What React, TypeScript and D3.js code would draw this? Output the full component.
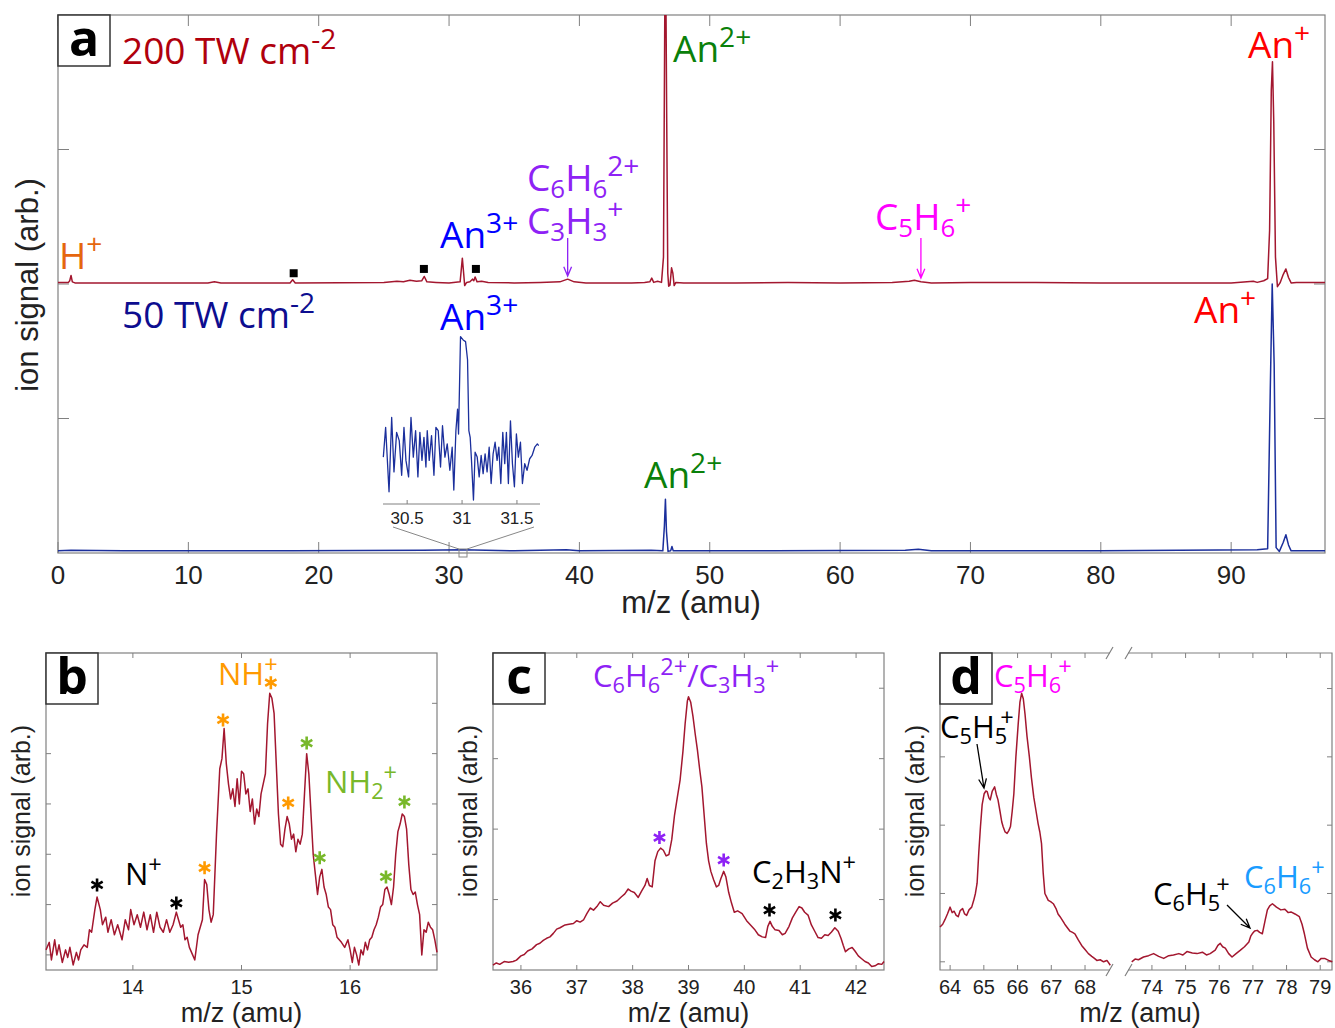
import React from "react";
import * as d3 from "d3";

const LABEL_FONT = "'Open Sans', 'Noto Sans', sans-serif";
const TICK_FONT = "'Liberation Sans', Arial, sans-serif";
const TRACE_RED = "#a3172f";
const TRACE_BLUE = "#1b2f9c";
const AXIS_GREY = "#808080";

type Pt = [number, number];
type Seg = [string, number?, number?];

// ---------- panel a: full spectra ----------
const massTicksA = [0, 10, 20, 30, 40, 50, 60, 70, 80, 90];
const signalTicksA = [0.25, 0.5, 0.75];
const RED_OFFSET = 0.5; // 200 TW trace is drawn above the 50 TW trace

// 200 TW cm-2 (signal above its own baseline)
const spectrum200: Pt[] = [
  [0, 0.003], [0.8, 0.003], [0.9, 0.006], [1.0, 0.016], [1.1, 0.004], [1.3, 0.002], [5, 0.002],
  [8, 0.002], [11.5, 0.002], [12, 0.004], [12.5, 0.002], [17.8, 0.002], [18, 0.008], [18.2, 0.002],
  [25, 0.003], [26, 0.005], [26.5, 0.004], [27, 0.007], [27.5, 0.005], [27.9, 0.006], [28.1, 0.014],
  [28.3, 0.004], [29, 0.003], [30, 0.002], [30.85, 0.004], [31.02, 0.048], [31.12, 0.02], [31.2, -0.003],
  [31.35, 0.003], [31.6, 0.004], [31.8, 0.009], [31.9, 0.006], [32.0, 0.013], [32.15, 0.004], [32.5, 0.005],
  [33, 0.003], [35, 0.002], [37, 0.003], [38.5, 0.004], [39.1, 0.009], [39.6, 0.004], [40.5, 0.002],
  [42, 0.002], [44, 0.002], [45, 0.003], [45.4, 0.004], [45.55, 0.011], [45.7, 0.003], [46.0, 0.005],
  [46.3, 0.003], [46.45, 0.05], [46.55, 0.5], [46.62, 0.6], [46.7, 0.3], [46.78, 0.02], [46.85, -0.004],
  [46.95, -0.002], [47.07, 0.03], [47.17, 0.02], [47.27, -0.003], [47.4, 0.003], [48, 0.002], [52, 0.002],
  [56, 0.003], [60, 0.002], [64, 0.003], [65.3, 0.005], [65.7, 0.007], [66.2, 0.004], [67, 0.002],
  [70, 0.003], [75, 0.003], [80, 0.002], [85, 0.002], [90, 0.002], [91.7, 0.005], [92.0, 0.003],
  [92.5, 0.006], [92.8, 0.01], [92.95, 0.1], [93.08, 0.36], [93.17, 0.413], [93.27, 0.3], [93.4, 0.05],
  [93.55, -0.005], [93.75, 0.002], [94.0, 0.018], [94.2, 0.028], [94.4, 0.012], [94.6, 0.002],
  [95, 0.003], [97.2, 0.003],
];

// 50 TW cm-2
const spectrum50: Pt[] = [
  [0, 0.004], [1, 0.005], [5, 0.004], [18, 0.004], [28, 0.005], [31, 0.006], [35, 0.004], [39, 0.006],
  [40, 0.004], [45.5, 0.005], [46.4, 0.004], [46.52, 0.05], [46.6, 0.1], [46.68, 0.04], [46.8, 0.003],
  [47.0, 0.004], [47.1, 0.012], [47.2, 0.004], [55, 0.004], [65, 0.005], [66, 0.007], [67, 0.004],
  [80, 0.004], [92, 0.006], [92.8, 0.008], [93.0, 0.3], [93.15, 0.5], [93.3, 0.35], [93.45, 0.01],
  [93.7, 0.003], [94.0, 0.02], [94.2, 0.034], [94.4, 0.015], [94.6, 0.004], [97.2, 0.004],
];

// zoom of 50 TW trace around An3+
const insetTicks = [30.5, 31, 31.5];
const inset50: Pt[] = [
  [30.283, 0.26], [30.304, 0.44], [30.335, 0.05], [30.359, 0.5], [30.38, 0.17], [30.404, 0.41],
  [30.428, 0.36], [30.45, 0.15], [30.471, 0.44], [30.489, 0.24], [30.513, 0.14], [30.535, 0.5],
  [30.556, 0.26], [30.577, 0.42], [30.598, 0.14], [30.616, 0.41], [30.635, 0.24], [30.653, 0.38],
  [30.671, 0.2], [30.683, 0.42], [30.701, 0.24], [30.722, 0.39], [30.744, 0.15], [30.762, 0.44],
  [30.783, 0.42], [30.804, 0.2], [30.822, 0.45], [30.844, 0.26], [30.865, 0.34], [30.889, 0.18],
  [30.91, 0.32], [30.925, 0.06], [30.944, 0.42], [30.959, 0.55], [30.968, 0.4], [30.986, 0.99],
  [31.01, 0.97], [31.032, 0.96], [31.05, 0.85], [31.062, 0.42], [31.074, 0.38], [31.086, 0.24],
  [31.104, 0.0], [31.119, 0.29], [31.138, 0.26], [31.156, 0.14], [31.174, 0.27], [31.192, 0.16],
  [31.21, 0.28], [31.228, 0.17], [31.247, 0.32], [31.265, 0.1], [31.283, 0.28], [31.301, 0.35],
  [31.319, 0.24], [31.335, 0.32], [31.353, 0.1], [31.371, 0.41], [31.389, 0.22], [31.404, 0.41],
  [31.422, 0.1], [31.441, 0.48], [31.459, 0.22], [31.477, 0.08], [31.495, 0.4], [31.513, 0.26],
  [31.532, 0.35], [31.55, 0.1], [31.571, 0.22], [31.592, 0.18], [31.616, 0.25], [31.638, 0.27],
  [31.662, 0.32], [31.686, 0.34], [31.698, 0.33],
];

// contaminant markers (m/z, height above 200 TW baseline)
const squareMarks: Pt[] = [[18.08, 0.02], [28.07, 0.028], [32.06, 0.028]];

// ---------- panel b ----------
const massTicksB = [14, 15, 16];
const signalTicksB = [0, 1, 2, 3, 4, 5];
const traceB: Pt[] = [
  [13.2, 0.1], [13.23, 0.25], [13.25, -0.1], [13.28, 0.3], [13.3, 0.0], [13.32, 0.2], [13.35, -0.15],
  [13.38, 0.1], [13.4, -0.05], [13.42, 0.15], [13.45, -0.2], [13.48, 0.05], [13.5, -0.1], [13.52, 0.1],
  [13.55, 0.2], [13.58, 0.15], [13.6, 0.5], [13.62, 0.45], [13.65, 0.9], [13.67, 1.15], [13.7, 0.9],
  [13.72, 0.6], [13.75, 0.75], [13.77, 0.45], [13.8, 0.7], [13.83, 0.4], [13.86, 0.6], [13.9, 0.3],
  [13.93, 0.7], [13.96, 0.5], [13.98, 0.9], [14.01, 0.6], [14.04, 0.8], [14.07, 0.55], [14.1, 0.85],
  [14.13, 0.5], [14.16, 0.8], [14.19, 0.45], [14.22, 0.85], [14.25, 0.55], [14.28, 0.45], [14.31, 0.7],
  [14.34, 0.45], [14.37, 0.6], [14.4, 0.85], [14.42, 0.7], [14.44, 0.55],
  [14.46, 0.6], [14.48, 0.3], [14.5, 0.35], [14.52, 0.15], [14.55, 0.0], [14.57, -0.1], [14.6, 0.4],
  [14.62, 0.55], [14.64, 0.7], [14.66, 1.5], [14.68, 1.4], [14.7, 0.9], [14.72, 0.65], [14.74, 0.8],
  [14.77, 2.4], [14.8, 3.7], [14.82, 3.9], [14.84, 4.5], [14.86, 3.8], [14.88, 3.4], [14.9, 3.1],
  [14.92, 3.3], [14.94, 2.95], [14.96, 3.5], [14.98, 3.0], [15.0, 3.65], [15.02, 3.6], [15.04, 3.2],
  [15.06, 3.3], [15.08, 2.85], [15.1, 3.1], [15.12, 2.6], [15.14, 2.9], [15.16, 2.75], [15.18, 3.2],
  [15.2, 3.4], [15.22, 3.6], [15.24, 4.6], [15.26, 5.2], [15.28, 5.1], [15.3, 4.8], [15.32, 3.8],
  [15.34, 2.8], [15.36, 2.2], [15.38, 2.15], [15.4, 2.5], [15.42, 2.75], [15.44, 2.6], [15.46, 2.3],
  [15.48, 2.4], [15.5, 2.05], [15.52, 2.3], [15.54, 2.2], [15.56, 2.4], [15.58, 3.2], [15.6, 4.0],
  [15.62, 3.6], [15.64, 2.8], [15.66, 2.0], [15.68, 1.6], [15.7, 1.2], [15.72, 1.55], [15.74, 1.7],
  [15.76, 1.35], [15.78, 1.2], [15.8, 0.95], [15.82, 0.9], [15.84, 0.6], [15.86, 0.55], [15.88, 0.35],
  [15.9, 0.3], [15.92, 0.25], [15.95, 0.15], [15.98, 0.3], [16.0, 0.1], [16.02, -0.15], [16.04, 0.15],
  [16.06, 0.0], [16.08, -0.2], [16.1, 0.1], [16.12, 0.0], [16.14, 0.25], [16.16, 0.1], [16.18, 0.3],
  [16.2, 0.35], [16.22, 0.5], [16.24, 0.6], [16.26, 0.75], [16.28, 0.95], [16.3, 1.0], [16.32, 1.3],
  [16.34, 1.35], [16.36, 1.2], [16.38, 1.0], [16.4, 1.35], [16.42, 2.0], [16.44, 2.45], [16.46, 2.6],
  [16.48, 2.8], [16.5, 2.75], [16.52, 2.5], [16.54, 1.8], [16.56, 1.3], [16.58, 1.2], [16.6, 1.25],
  [16.62, 1.0], [16.64, 0.8], [16.66, 0.0], [16.68, 0.5], [16.7, 0.45], [16.72, 0.65], [16.74, 0.55],
  [16.76, 0.5], [16.78, 0.3], [16.8, 0.05],
];
const starsB: [number, number, string][] = [
  [13.67, 1.39, "#000"], [14.4, 1.03, "#000"],
  [14.66, 1.73, "#ff9a00"], [14.83, 4.67, "#ff9a00"], [15.27, 5.41, "#ff9a00"], [15.43, 3.02, "#ff9a00"],
  [15.6, 4.21, "#78b82a"], [15.72, 1.93, "#78b82a"], [16.33, 1.55, "#78b82a"], [16.5, 3.04, "#78b82a"],
];

// ---------- panel c ----------
const massTicksC = [36, 37, 38, 39, 40, 41, 42];
const signalTicksC = [1, 2, 3, 4];
const traceC: Pt[] = [
  [35.5, 0.07], [35.56, 0.1], [35.62, 0.08], [35.7, 0.12], [35.78, 0.11], [35.86, 0.12], [35.92, 0.14],
  [36.0, 0.2], [36.06, 0.22], [36.12, 0.27], [36.2, 0.3], [36.28, 0.36], [36.34, 0.38], [36.4, 0.42],
  [36.46, 0.45], [36.52, 0.47], [36.58, 0.52], [36.64, 0.58], [36.7, 0.6], [36.79, 0.64], [36.86, 0.65],
  [36.94, 0.66], [37.0, 0.7], [37.06, 0.68], [37.12, 0.71], [37.18, 0.8], [37.24, 0.88], [37.3, 0.85],
  [37.36, 0.9], [37.42, 0.97], [37.48, 0.92], [37.57, 0.9], [37.64, 0.95], [37.72, 0.98], [37.8, 1.04],
  [37.86, 1.08], [37.92, 1.15], [37.97, 1.12], [38.03, 1.1], [38.1, 1.03], [38.16, 1.12], [38.22, 1.2],
  [38.26, 1.3], [38.3, 1.2], [38.35, 1.18], [38.4, 1.55], [38.45, 1.68], [38.5, 1.73], [38.55, 1.7],
  [38.6, 1.62], [38.65, 1.64], [38.7, 1.85], [38.75, 2.2], [38.8, 2.45], [38.85, 2.7], [38.9, 3.1],
  [38.94, 3.5], [38.98, 3.82], [39.0, 3.88], [39.04, 3.8], [39.08, 3.6], [39.12, 3.35], [39.16, 3.12],
  [39.2, 2.85], [39.24, 2.6], [39.28, 2.2], [39.32, 1.8], [39.36, 1.55], [39.4, 1.4], [39.45, 1.28],
  [39.5, 1.18], [39.54, 1.2], [39.58, 1.3], [39.63, 1.4], [39.67, 1.32], [39.72, 1.1], [39.77, 0.95],
  [39.82, 0.82], [39.88, 0.84], [39.96, 0.8], [40.04, 0.7], [40.11, 0.64], [40.18, 0.58], [40.25, 0.5],
  [40.32, 0.47], [40.38, 0.46], [40.42, 0.62], [40.46, 0.69], [40.5, 0.62], [40.55, 0.57], [40.62, 0.56],
  [40.68, 0.5], [40.73, 0.52], [40.8, 0.62], [40.86, 0.74], [40.92, 0.82], [40.98, 0.9], [41.03, 0.88],
  [41.08, 0.82], [41.14, 0.78], [41.2, 0.64], [41.26, 0.55], [41.32, 0.46], [41.38, 0.45], [41.44, 0.5],
  [41.5, 0.49], [41.56, 0.54], [41.62, 0.6], [41.68, 0.55], [41.73, 0.45], [41.77, 0.35], [41.81, 0.26],
  [41.87, 0.3], [41.93, 0.32], [41.98, 0.27], [42.04, 0.2], [42.1, 0.16], [42.16, 0.12], [42.22, 0.1],
  [42.28, 0.05], [42.34, 0.06], [42.4, 0.09], [42.46, 0.08], [42.5, 0.12],
];
const starsC: [number, number, string][] = [
  [38.48, 1.88, "#8e22f5"], [39.63, 1.56, "#8e22f5"], [40.45, 0.85, "#000"], [41.63, 0.78, "#000"],
];

// ---------- panel d (broken axis) ----------
const massTicksD = [64, 65, 66, 67, 68, 74, 75, 76, 77, 78, 79];
const signalTicksD = [0, 1, 2, 3, 4];
const traceD1: Pt[] = [
  [63.7, 0.51], [63.78, 0.55], [63.85, 0.62], [63.92, 0.7], [64.0, 0.8], [64.06, 0.72], [64.12, 0.74],
  [64.18, 0.68], [64.24, 0.66], [64.3, 0.75], [64.37, 0.78], [64.43, 0.7], [64.49, 0.68], [64.56, 0.76],
  [64.64, 0.8], [64.7, 0.9], [64.75, 1.0], [64.8, 1.15], [64.85, 1.6], [64.9, 1.98], [64.95, 2.3],
  [65.01, 2.46], [65.06, 2.5], [65.1, 2.49], [65.15, 2.4], [65.19, 2.37], [65.25, 2.5], [65.32, 2.56],
  [65.37, 2.45], [65.42, 2.37], [65.48, 2.2], [65.53, 2.05], [65.57, 1.98], [65.63, 1.9], [65.69, 1.88],
  [65.74, 1.92], [65.79, 1.98], [65.84, 2.2], [65.89, 2.46], [65.95, 3.0], [66.02, 3.49], [66.07, 3.8],
  [66.12, 3.93], [66.17, 3.85], [66.22, 3.63], [66.28, 3.3], [66.35, 3.0], [66.41, 2.7], [66.48, 2.41],
  [66.55, 2.2], [66.61, 2.02], [66.66, 1.9], [66.71, 1.73], [66.76, 1.3], [66.81, 1.0], [66.86, 0.95],
  [66.91, 0.9], [66.98, 0.88], [67.06, 0.85], [67.14, 0.78], [67.2, 0.7], [67.26, 0.66], [67.34, 0.6],
  [67.4, 0.55], [67.46, 0.51], [67.55, 0.45], [67.63, 0.43], [67.7, 0.41], [67.8, 0.32], [67.9, 0.24],
  [68.0, 0.18], [68.1, 0.12], [68.2, 0.08], [68.28, 0.05], [68.35, 0.02], [68.45, 0.03], [68.55, 0.0],
  [68.65, 0.02], [68.75, -0.05],
];
const traceD2: Pt[] = [
  [73.4, 0.0], [73.5, 0.04], [73.6, 0.03], [73.75, 0.07], [73.9, 0.09], [74.05, 0.12], [74.2, 0.08],
  [74.35, 0.05], [74.5, 0.09], [74.64, 0.1], [74.8, 0.12], [74.92, 0.1], [75.04, 0.15], [75.2, 0.13],
  [75.34, 0.12], [75.5, 0.14], [75.62, 0.1], [75.73, 0.12], [75.88, 0.17], [75.96, 0.24], [76.03, 0.27],
  [76.1, 0.22], [76.18, 0.2], [76.28, 0.12], [76.38, 0.07], [76.5, 0.12], [76.63, 0.17], [76.75, 0.22],
  [76.88, 0.29], [76.94, 0.38], [76.98, 0.41], [77.05, 0.45], [77.13, 0.46], [77.2, 0.43], [77.28, 0.41],
  [77.36, 0.6], [77.43, 0.76], [77.5, 0.82], [77.58, 0.85], [77.7, 0.8], [77.83, 0.76], [77.95, 0.77],
  [78.05, 0.72], [78.13, 0.73], [78.25, 0.7], [78.38, 0.66], [78.46, 0.55], [78.53, 0.41], [78.62, 0.2],
  [78.73, 0.07], [78.83, 0.03], [78.93, 0.0], [79.03, 0.05], [79.13, 0.05], [79.25, 0.02], [79.36, 0.0],
];

// ---------- helpers ----------
function Chem({ x, y, size, fill, segs }: { x: number; y: number; size: number; fill: string; segs: Seg[] }) {
  let level = 0;
  return (
    <text x={x} y={y} fill={fill} fontSize={size} fontFamily={LABEL_FONT}>
      {segs.map((s, i) => {
        const [t, k = 0, dx = 0] = s;
        const target = k === 1 ? -0.4 * size : k === -1 ? 0.2 * size : 0;
        const dy = target - level;
        level = target;
        return (
          <tspan key={i} dy={dy} dx={dx} fontSize={k === 0 ? size : k === 1 ? size * 0.76 : size * 0.7}>
            {t}
          </tspan>
        );
      })}
    </text>
  );
}

function starPath(cx: number, cy: number, r: number) {
  const c = r * Math.cos(Math.PI / 6);
  const s = r * Math.sin(Math.PI / 6);
  return `M${cx},${cy - r}L${cx},${cy + r}M${cx - c},${cy - s}L${cx + c},${cy + s}M${cx - c},${cy + s}L${cx + c},${cy - s}`;
}

function Arrow({ x1, y1, x2, y2, color }: { x1: number; y1: number; x2: number; y2: number; color: string }) {
  const a = Math.atan2(y2 - y1, x2 - x1);
  const L = 10, w = 0.4;
  const h1 = [x2 - L * Math.cos(a - w), y2 - L * Math.sin(a - w)];
  const h2 = [x2 - L * Math.cos(a + w), y2 - L * Math.sin(a + w)];
  return (
    <path
      d={`M${x1},${y1}L${x2},${y2}M${h1[0]},${h1[1]}L${x2},${y2}L${h2[0]},${h2[1]}`}
      stroke={color} strokeWidth={1.3} fill="none"
    />
  );
}

function LetterBox({ x, y, ch }: { x: number; y: number; ch: string }) {
  return (
    <g>
      <rect x={x} y={y} width={52} height={51} fill="#fff" stroke="#333" strokeWidth={1.5} />
      <text x={x + 26} y={y + 41} textAnchor="middle" fontFamily={LABEL_FONT} fontWeight={700} fontSize={50} fill="#000">
        {ch}
      </text>
    </g>
  );
}

function YLabel({ x, y, size }: { x: number; y: number; size: number }) {
  return (
    <text transform={`translate(${x},${y}) rotate(-90)`} textAnchor="middle" fontFamily={TICK_FONT} fontSize={size} fill="#222">
      ion signal (arb.)
    </text>
  );
}

// small panel with ordinary linear x axis
function SmallPanel({
  x0, x1, xDomain, yDomain, xTicks, yTicks, trace, stars, letter,
}: {
  x0: number; x1: number; xDomain: [number, number]; yDomain: [number, number];
  xTicks: number[]; yTicks: number[]; trace: Pt[]; stars: [number, number, string][]; letter: string;
}) {
  const top = 653, bottom = 970;
  const x = d3.scaleLinear().domain(xDomain).range([x0, x1]);
  const y = d3.scaleLinear().domain(yDomain).range([bottom, top]);
  const line = d3.line<Pt>().x((d) => x(d[0])).y((d) => y(d[1]));
  const tk = 5;
  return (
    <g>
      <rect x={x0} y={top} width={x1 - x0} height={bottom - top} fill="none" stroke={AXIS_GREY} strokeWidth={1.2} />
      {xTicks.map((t) => (
        <g key={t}>
          <line x1={x(t)} x2={x(t)} y1={bottom} y2={bottom - tk} stroke={AXIS_GREY} />
          <line x1={x(t)} x2={x(t)} y1={top} y2={top + tk} stroke={AXIS_GREY} />
          <text x={x(t)} y={994} textAnchor="middle" fontFamily={TICK_FONT} fontSize={20} fill="#222">{t}</text>
        </g>
      ))}
      {yTicks.map((t) => (
        <g key={t}>
          <line x1={x0} x2={x0 + tk} y1={y(t)} y2={y(t)} stroke={AXIS_GREY} />
          <line x1={x1} x2={x1 - tk} y1={y(t)} y2={y(t)} stroke={AXIS_GREY} />
        </g>
      ))}
      <path d={line(trace) || ""} fill="none" stroke={TRACE_RED} strokeWidth={1.5} strokeLinejoin="round" />
      {stars.map(([sx, sy, c], i) => (
        <path key={i} d={starPath(x(sx), y(sy), 6.5)} stroke={c} strokeWidth={2.6} fill="none" />
      ))}
      <text x={(x0 + x1) / 2} y={1022} textAnchor="middle" fontFamily={TICK_FONT} fontSize={27} fill="#222">m/z (amu)</text>
      <LetterBox x={x0} y={top} ch={letter} />
    </g>
  );
}

export default function App() {
  // panel a scales
  const xA = d3.scaleLinear().domain([0, 97.2]).range([58, 1325]);
  const yA = d3.scaleLinear().domain([0, 1]).range([553, 15]);
  const lineRed = d3.line<Pt>().x((d) => xA(d[0])).y((d) => yA(d[1] + RED_OFFSET));
  const lineBlue = d3.line<Pt>().x((d) => xA(d[0])).y((d) => yA(d[1]));

  // inset
  const xI = d3.scaleLinear().domain([30.28, 31.71]).range([383, 540]);
  const yI = d3.scaleLinear().domain([0, 1]).range([500, 335]);
  const lineI = d3.line<Pt>().x((d) => xI(d[0])).y((d) => yI(d[1]));

  // panel d scales (broken axis)
  const xD = d3.scaleLinear().domain([63.7, 68.8, 73.2, 79.35]).range([940, 1112, 1125, 1332]);
  const yD = d3.scaleLinear().domain([-0.12, 4.52]).range([970, 653]);
  const lineD = d3.line<Pt>().x((d) => xD(d[0])).y((d) => yD(d[1]));

  const tkA = 11;
  const gapL = 1110, gapR = 1128;

  return (
    <svg width={1335} height={1028} style={{ position: "absolute", left: 0, top: 0, background: "#fff" }}>
      <defs>
        <clipPath id="clipA">
          <rect x={58} y={15} width={1267} height={538} />
        </clipPath>
      </defs>

      {/* ---------- panel a ---------- */}
      <rect x={58} y={15} width={1267} height={538} fill="none" stroke={AXIS_GREY} strokeWidth={1.2} />
      {massTicksA.map((t) => (
        <g key={t}>
          <line x1={xA(t)} x2={xA(t)} y1={553} y2={553 - tkA} stroke={AXIS_GREY} />
          <line x1={xA(t)} x2={xA(t)} y1={15} y2={15 + tkA} stroke={AXIS_GREY} />
          <text x={xA(t)} y={584} textAnchor="middle" fontFamily={TICK_FONT} fontSize={26} fill="#222">{t}</text>
        </g>
      ))}
      {signalTicksA.map((t) => (
        <g key={t}>
          <line x1={58} x2={58 + tkA} y1={yA(t)} y2={yA(t)} stroke={AXIS_GREY} />
          <line x1={1325} x2={1325 - tkA} y1={yA(t)} y2={yA(t)} stroke={AXIS_GREY} />
        </g>
      ))}
      <text x={691} y={613} textAnchor="middle" fontFamily={TICK_FONT} fontSize={31} fill="#222">m/z (amu)</text>
      <YLabel x={38} y={285} size={31} />

      <g clipPath="url(#clipA)">
        <path d={lineBlue(spectrum50) || ""} fill="none" stroke={TRACE_BLUE} strokeWidth={1.5} strokeLinejoin="round" />
        <path d={lineRed(spectrum200) || ""} fill="none" stroke={TRACE_RED} strokeWidth={1.5} strokeLinejoin="round" />
      </g>

      {squareMarks.map(([m, h], i) => (
        <rect key={i} x={xA(m) - 4} y={yA(h + RED_OFFSET) - 4} width={8} height={8} fill="#000" />
      ))}

      {/* inset */}
      <path d={lineI(inset50) || ""} fill="none" stroke={TRACE_BLUE} strokeWidth={1.3} strokeLinejoin="round" />
      <line x1={383} x2={540} y1={504} y2={504} stroke={AXIS_GREY} />
      {insetTicks.map((t) => (
        <g key={t}>
          <line x1={xI(t)} x2={xI(t)} y1={504} y2={500} stroke={AXIS_GREY} />
          <text x={xI(t)} y={524} textAnchor="middle" fontFamily={TICK_FONT} fontSize={17} fill="#222">{t}</text>
        </g>
      ))}
      <path d={`M393,527L459,549M534,527L467,549`} stroke="#888" strokeWidth={1} fill="none" />
      <rect x={459} y={549} width={8} height={8} fill="none" stroke="#888" strokeWidth={1} />

      {/* panel a annotations */}
      <LetterBox x={58} y={15} ch="a" />
      <Chem x={122} y={64} size={37} fill="#b0000d" segs={[["200 TW cm"], ["-2", 1]]} />
      <Chem x={122} y={328} size={37} fill="#0d0d8f" segs={[["50 TW cm"], ["-2", 1]]} />
      <Chem x={673} y={62} size={37} fill="#0a800a" segs={[["An"], ["2+", 1]]} />
      <Chem x={1248} y={58} size={37} fill="#ff0000" segs={[["An"], ["+", 1]]} />
      <Chem x={1194} y={323} size={37} fill="#ff0000" segs={[["An"], ["+", 1]]} />
      <Chem x={644} y={488} size={37} fill="#0a800a" segs={[["An"], ["2+", 1]]} />
      <Chem x={440} y={248} size={37} fill="#0000ff" segs={[["An"], ["3+", 1]]} />
      <Chem x={440} y={330} size={37} fill="#0000ff" segs={[["An"], ["3+", 1]]} />
      <Chem x={59} y={269} size={37} fill="#e5660e" segs={[["H"], ["+", 1]]} />
      <Chem x={527} y={191} size={37} fill="#8e22f5" segs={[["C"], ["6", -1], ["H"], ["6", -1], ["2+", 1]]} />
      <Chem x={527} y={234} size={37} fill="#8e22f5" segs={[["C"], ["3", -1], ["H"], ["3", -1], ["+", 1]]} />
      <Arrow x1={xA(39.1)} y1={238} x2={xA(39.1)} y2={276} color="#8e22f5" />
      <Chem x={875} y={230} size={37} fill="#ff00ff" segs={[["C"], ["5", -1], ["H"], ["6", -1], ["+", 1]]} />
      <Arrow x1={xA(66.2)} y1={238} x2={xA(66.2)} y2={278} color="#ff00ff" />

      {/* ---------- panel b ---------- */}
      <SmallPanel x0={46} x1={437} xDomain={[13.2, 16.8]} yDomain={[-0.3, 6.0]} xTicks={massTicksB}
        yTicks={signalTicksB} trace={traceB} stars={starsB} letter="b" />
      <YLabel x={30} y={811} size={25} />
      <Chem x={125} y={885} size={31} fill="#000" segs={[["N"], ["+", 1]]} />
      <Chem x={218} y={685} size={31} fill="#ff9a00" segs={[["NH"], ["+", 1]]} />
      <Chem x={325} y={793} size={31} fill="#78b82a" segs={[["NH"], ["2", -1], ["+", 1]]} />

      {/* ---------- panel c ---------- */}
      <SmallPanel x0={493} x1={884} xDomain={[35.5, 42.5]} yDomain={[0, 4.5]} xTicks={massTicksC}
        yTicks={signalTicksC} trace={traceC} stars={starsC} letter="c" />
      <YLabel x={477} y={811} size={25} />
      <Chem x={593} y={687} size={31} fill="#8e22f5"
        segs={[["C"], ["6", -1], ["H"], ["6", -1], ["2+", 1], ["/"], ["C"], ["3", -1], ["H"], ["3", -1], ["+", 1]]} />
      <Chem x={752} y={883} size={31} fill="#000" segs={[["C"], ["2", -1], ["H"], ["3", -1], ["N"], ["+", 1]]} />

      {/* ---------- panel d ---------- */}
      <g>
        <path
          d={`M${gapL},653L940,653L940,970L${gapL},970M${gapR},653L1332,653L1332,970L${gapR},970`}
          fill="none" stroke={AXIS_GREY} strokeWidth={1.2}
        />
        {[653, 970].map((yy) => (
          <path key={yy} d={`M${gapL - 4},${yy + 6}L${gapL + 3},${yy - 6}M${gapR - 3},${yy + 6}L${gapR + 4},${yy - 6}`}
            stroke={AXIS_GREY} strokeWidth={1.2} fill="none" />
        ))}
        {massTicksD.map((t) => (
          <g key={t}>
            <line x1={xD(t)} x2={xD(t)} y1={970} y2={965} stroke={AXIS_GREY} />
            <line x1={xD(t)} x2={xD(t)} y1={653} y2={658} stroke={AXIS_GREY} />
            <text x={xD(t)} y={994} textAnchor="middle" fontFamily={TICK_FONT} fontSize={20} fill="#222">{t}</text>
          </g>
        ))}
        {signalTicksD.map((t) => (
          <g key={t}>
            <line x1={940} x2={945} y1={yD(t)} y2={yD(t)} stroke={AXIS_GREY} />
            <line x1={1332} x2={1327} y1={yD(t)} y2={yD(t)} stroke={AXIS_GREY} />
          </g>
        ))}
        <path d={lineD(traceD1) || ""} fill="none" stroke={TRACE_RED} strokeWidth={1.5} strokeLinejoin="round" />
        <path d={lineD(traceD2) || ""} fill="none" stroke={TRACE_RED} strokeWidth={1.5} strokeLinejoin="round" />
        <text x={1140} y={1022} textAnchor="middle" fontFamily={TICK_FONT} fontSize={27} fill="#222">m/z (amu)</text>
        <LetterBox x={940} y={653} ch="d" />
      </g>
      <YLabel x={924} y={811} size={25} />
      <Chem x={994} y={687} size={31} fill="#ff00ff" segs={[["C"], ["5", -1], ["H"], ["6", -1], ["+", 1, -3]]} />
      <Chem x={940} y={738} size={31} fill="#000" segs={[["C"], ["5", -1], ["H"], ["5", -1], ["+", 1, -7]]} />
      <Arrow x1={977} y1={744} x2={984} y2={788} color="#000" />
      <Chem x={1153} y={905} size={31} fill="#000" segs={[["C"], ["6", -1], ["H"], ["5", -1], ["+", 1, -4]]} />
      <Arrow x1={1227} y1={905} x2={1250} y2={928} color="#000" />
      <Chem x={1244} y={888} size={31} fill="#1a9cff" segs={[["C"], ["6", -1], ["H"], ["6", -1], ["+", 1]]} />
    </svg>
  );
}
